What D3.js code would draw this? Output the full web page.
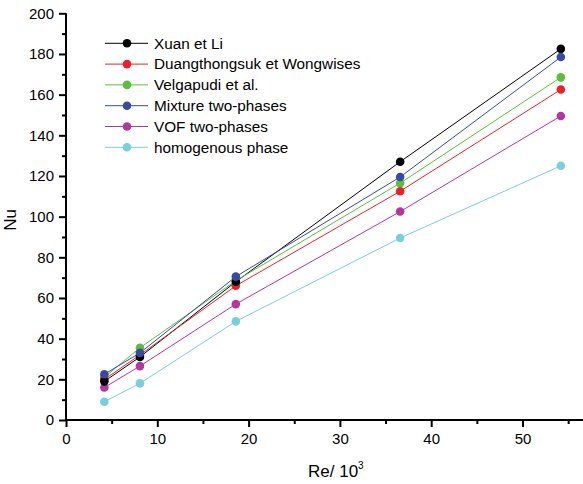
<!DOCTYPE html>
<html><head><meta charset="utf-8">
<script src="https://cdn.jsdelivr.net/npm/d3@7"></script>
<style>html,body{margin:0;padding:0;background:#fff;}svg{display:block;font-family:"Liberation Sans",Arial,sans-serif;}</style>
</head><body>
<svg id="c" width="583" height="484"></svg>
<script>
const reValues = [4.2, 8.1, 18.6, 36.6, 54.2];
const seriesNames = ["Xuan et Li", "Duangthongsuk et Wongwises", "Velgapudi et al.", "Mixture two-phases", "VOF two-phases", "homogenous phase"];
const xuan = [19, 31, 68, 127, 182.5];
const duang = [20, 32, 66, 112.5, 162.5];
const velga = [21, 35.5, 68.5, 116.5, 168.5];
const mixture = [22.5, 33, 70.5, 119.5, 178.5];
const vof = [16, 26.5, 57, 102.5, 149.5];
const homog = [9, 18, 48.5, 89.5, 125];
const xMajorTicks = [0, 10, 20, 30, 40, 50];
const xMinorTicks = [5, 15, 25, 35, 45, 55];
const yMajorTicks = [0, 20, 40, 60, 80, 100, 120, 140, 160, 180, 200];
const yMinorTicks = [10, 30, 50, 70, 90, 110, 130, 150, 170, 190];
const colors = ["#000000", "#e8212b", "#5cbf3c", "#3a4aa2", "#b2379f", "#79cfdb"];

const seriesData = [xuan, duang, velga, mixture, vof, homog];
const svg = d3.select("#c");
const x = d3.scaleLinear().domain([0, 57]).range([66, 66 + 57 * 9.13]);
const y = d3.scaleLinear().domain([0, 200]).range([420, 13.3]);

// series
const line = d3.line().x(d => x(d[0])).y(d => y(d[1]));
seriesData.forEach((vals, i) => {
  const pts = reValues.map((r, j) => [r, vals[j]]);
  svg.append("path").attr("d", line(pts)).attr("fill", "none")
    .attr("stroke", colors[i]).attr("stroke-width", 1);
});
[5,4,2,1,0,3].forEach(i => {
  const vals = seriesData[i];
  svg.selectAll(null).data(reValues.map((r, j) => [r, vals[j]])).enter()
    .append("circle").attr("cx", d => x(d[0])).attr("cy", d => y(d[1]))
    .attr("r", 4.3).attr("fill", colors[i]);
});

// axes
const xAxis = d3.axisBottom(x).tickValues(xMajorTicks).tickSize(7).tickPadding(6).tickFormat(d3.format("d"));
const gx = svg.append("g").attr("transform", "translate(0,420)").call(xAxis);
gx.append("g").call(d3.axisBottom(x).tickValues(xMinorTicks).tickSize(4).tickFormat(""));
const yAxis = d3.axisLeft(y).tickValues(yMajorTicks).tickSize(7).tickPadding(5).tickFormat(d3.format("d"));
const gy = svg.append("g").attr("transform", "translate(66,0)").call(yAxis);
gy.append("g").call(d3.axisLeft(y).tickValues(yMinorTicks).tickSize(4).tickFormat(""));
svg.selectAll(".domain").attr("stroke", "#000").attr("stroke-width", 2);
svg.selectAll(".tick line").attr("stroke", "#000").attr("stroke-width", 2);
svg.selectAll(".tick text").attr("font-size", 15).attr("fill", "#000").attr("font-family", "Liberation Sans, Arial, sans-serif");
gx.select(".domain").attr("d", "M66,0H583");
gy.select(".domain").attr("d", "M0,420V13.3");
gx.selectAll("g > g").select(".domain").remove();
gy.selectAll("g > g").select(".domain").remove();

// axis titles
const xt = svg.append("text").attr("x", 308).attr("y", 477).attr("font-size", 17).attr("fill", "#000");
xt.append("tspan").text("Re/ 10");
xt.append("tspan").attr("font-size", 10).attr("dy", -8).text("3");
svg.append("text").attr("transform", "translate(16,220) rotate(-90)").attr("text-anchor", "middle")
  .attr("font-size", 17).attr("fill", "#000").text("Nu");

// legend
const lg = svg.append("g");
seriesNames.forEach((name, i) => {
  const yy = 43.3 + i * 20.8;
  lg.append("line").attr("x1", 105).attr("x2", 148).attr("y1", yy).attr("y2", yy).attr("stroke", colors[i]).attr("stroke-width", 1);
  lg.append("circle").attr("cx", 127).attr("cy", yy).attr("r", 4.3).attr("fill", colors[i]);
  lg.append("text").attr("x", 154).attr("y", yy + 5.3).attr("font-size", 15.3).attr("fill", "#000").text(name);
});
</script>
</body></html>
